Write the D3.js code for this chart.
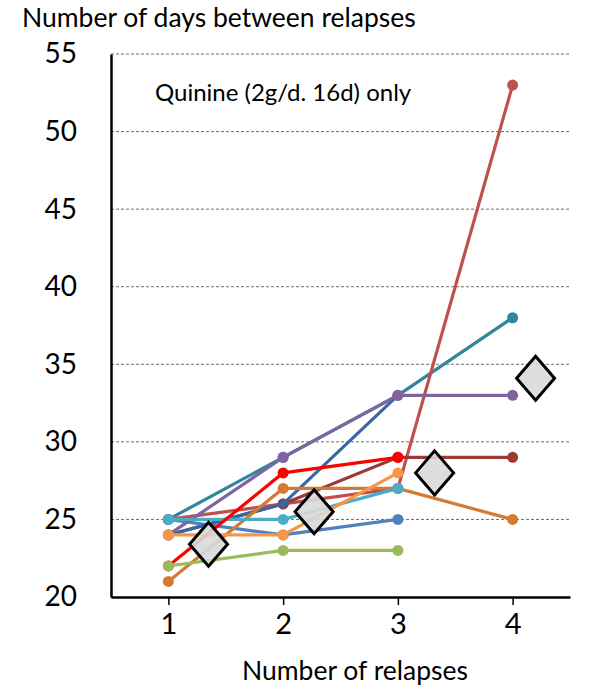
<!DOCTYPE html>
<html>
<head>
<meta charset="utf-8">
<script src="https://cdn.jsdelivr.net/npm/d3@7/dist/d3.min.js"></script>
<style>
  html, body { margin: 0; padding: 0; background: #fff; }
  svg { display: block; }
  text { font-family: Lato, "Open Sans", sans-serif; fill: #000; }
</style>
</head>
<body>
<svg id="chart" width="600" height="695"></svg>
<script>
// ---- data ----
const relapses = [1, 2, 3, 4];
const yTicks = [20, 25, 30, 35, 40, 45, 50, 55];

// drawing order (later on top)
const seriesNames = ["teal", "lightRed", "maroon", "blue", "darkBlue", "brown", "purple", "cyan", "lightOrange", "red", "green"];
const seriesColors = ["#31859C", "#C0504D", "#9B3A37", "#4F81BD", "#3A67A3", "#D37B33", "#8064A2", "#4BACC6", "#F79646", "#FF0000", "#9BBB59"];
const teal        = [25, 29, 33, 38];
const lightRed    = [25, 26, 27, 53];
const maroon      = [24, 26, 29, 29];
const blue        = [25, 24, 25];
const darkBlue    = [24, 26, 33];
const brown       = [21, 27, 27, 25];
const purple      = [24, 29, 33, 33];
const cyan        = [25, 25, 27];
const lightOrange = [24, 24, 28];
const red         = [22, 28, 29];
const green       = [22, 23, 23];
const seriesValues = [teal, lightRed, maroon, blue, darkBlue, brown, purple, cyan, lightOrange, red, green];

const meanX = [1.35, 2.27, 3.32, 4.2];
const meanY = [23.4, 25.5, 28.0, 34.1];

const yTitle = "Number of days between relapses";
const xTitle = "Number of relapses";
const note = "Quinine (2g/d. 16d) only";

// ---- layout ----
const svg = d3.select("#chart");
const mLeft = 111, mRight = 570, mTop = 54, mBottom = 597;
const x = d3.scaleLinear().domain([0.5, 4.5]).range([mLeft, mRight]);
const y = d3.scaleLinear().domain([20, 55]).range([mBottom, mTop]);

// grid
svg.append("g").selectAll("line").data(yTicks.filter(d => d > 20)).join("line")
  .attr("x1", mLeft).attr("x2", mRight)
  .attr("y1", d => y(d)).attr("y2", d => y(d))
  .attr("stroke", "#6e6e6e").attr("stroke-width", 1).attr("stroke-dasharray", "3,2");

// y axis
const yAxis = svg.append("g").attr("transform", `translate(${mLeft},0)`)
  .call(d3.axisLeft(y).tickValues(yTicks).tickSize(0).tickPadding(34));
yAxis.select(".domain").attr("stroke", "#000").attr("stroke-width", 2.5);
yAxis.selectAll("text").attr("font-size", 28).attr("font-family", "Lato, sans-serif");

// x axis
const xAxis = svg.append("g").attr("transform", `translate(0,${mBottom})`)
  .call(d3.axisBottom(x).tickValues(relapses).tickSize(8).tickPadding(8).tickSizeOuter(0).tickFormat(d3.format("d")));
xAxis.select(".domain").attr("stroke", "#000").attr("stroke-width", 2.5);
xAxis.selectAll(".tick line").attr("stroke", "#000").attr("stroke-width", 1.5);
xAxis.selectAll("text").attr("font-size", 29).attr("font-family", "Lato, sans-serif");

// series
const line = d3.line().x((d, i) => x(relapses[i])).y(d => y(d));
seriesValues.forEach((vals, si) => {
  const g = svg.append("g");
  g.append("path").datum(vals).attr("d", line)
    .attr("fill", "none").attr("stroke", seriesColors[si]).attr("stroke-width", 3.2);
  if (seriesNames[si] === "darkBlue") {
    g.selectAll("path.m").data(vals).join("path").attr("class", "m")
      .attr("transform", (d, i) => `translate(${x(relapses[i])},${y(d)}) rotate(45)`)
      .attr("d", d3.symbol(d3.symbolSquare, 50))
      .attr("fill", seriesColors[si]);
  } else {
    g.selectAll("circle").data(vals).join("circle")
      .attr("cx", (d, i) => x(relapses[i])).attr("cy", d => y(d)).attr("r", 5.5)
      .attr("fill", seriesColors[si]);
  }
});

// means (diamonds)
svg.append("g").selectAll("path").data(meanY).join("path")
  .attr("d", (d, i) => {
    const cx = x(meanX[i]), cy = y(d), hw = 19, hh = 22;
    return `M${cx},${cy - hh}L${cx + hw},${cy}L${cx},${cy + hh}L${cx - hw},${cy}Z`;
  })
  .attr("fill", "#D9D9D9").attr("fill-opacity", 0.9)
  .attr("stroke", "#000").attr("stroke-width", 3).attr("stroke-linejoin", "miter");

// texts
svg.append("text").attr("x", 22).attr("y", 27).attr("font-size", 26.5).text(yTitle);
svg.append("text").attr("x", 155).attr("y", 101).attr("font-size", 24).text(note);
svg.append("text").attr("x", 355).attr("y", 680).attr("text-anchor", "middle").attr("font-size", 26.5).text(xTitle);
</script>
</body>
</html>
